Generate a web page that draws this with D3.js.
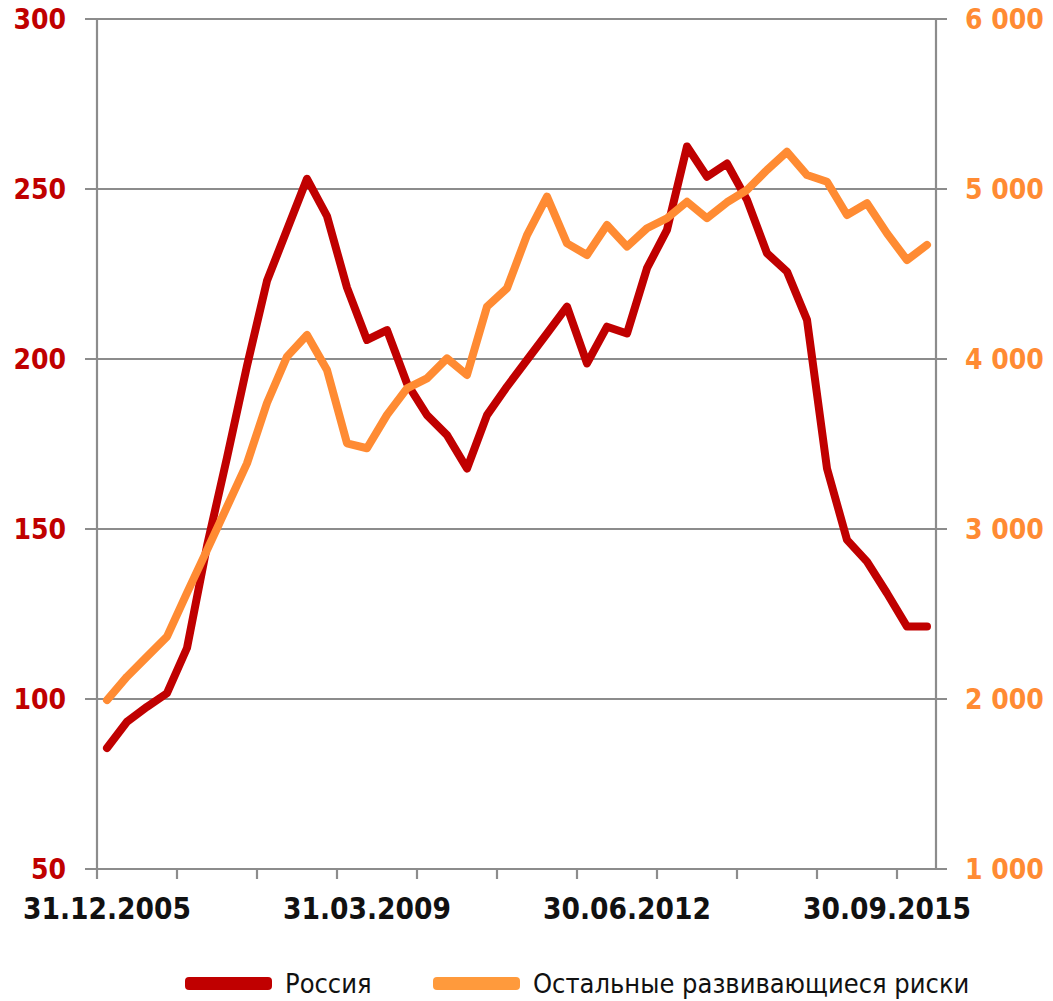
<!DOCTYPE html>
<html>
<head>
<meta charset="utf-8">
<script src="https://cdn.jsdelivr.net/npm/d3@7.9.0/dist/d3.min.js"></script>
<style>
  body { margin: 0; background: #fff; }
  svg { display: block; }
</style>
</head>
<body>
<svg width="1053" height="1001"></svg>
<script>
// quarter-end dates
const dates = [
  '31.12.2005',
  '31.03.2006', '30.06.2006', '30.09.2006', '31.12.2006',
  '31.03.2007', '30.06.2007', '30.09.2007', '31.12.2007',
  '31.03.2008', '30.06.2008', '30.09.2008', '31.12.2008',
  '31.03.2009', '30.06.2009', '30.09.2009', '31.12.2009',
  '31.03.2010', '30.06.2010', '30.09.2010', '31.12.2010',
  '31.03.2011', '30.06.2011', '30.09.2011', '31.12.2011',
  '31.03.2012', '30.06.2012', '30.09.2012', '31.12.2012',
  '31.03.2013', '30.06.2013', '30.09.2013', '31.12.2013',
  '31.03.2014', '30.06.2014', '30.09.2014', '31.12.2014',
  '31.03.2015', '30.06.2015', '30.09.2015', '31.12.2015',
  '31.03.2016'
];

// Россия (left axis)
const russia = [
  85.6, 93.3, 97.7, 101.7, 115, 145, 171, 198, 223, 238,
  253, 242, 221, 205.6, 208.5, 192.8, 183.5, 177.6, 167.8, 183.5,
  191.9, 199.7, 207.5, 215.4, 198.7, 209.5, 207.5, 226.7, 238, 262.5,
  253.6, 257.5, 246.8, 231.1, 225.7, 211.5, 167.8, 146.8, 140.4, 131.1,
  121.3, 121.3
];

// Остальные развивающиеся риски (right axis)
const others = [
  1994, 2131, 2249, 2367, 2624, 2876, 3131, 3386, 3741, 4014,
  4141, 3935, 3504, 3475, 3671, 3827, 3886, 4004, 3906, 4308,
  4416, 4729, 4955, 4680, 4612, 4788, 4661, 4769, 4828, 4925,
  4828, 4922, 4994, 5112, 5219, 5082, 5043, 4847, 4916, 4739,
  4582, 4671
];

const leftTicks = [50, 100, 150, 200, 250, 300];
const rightTicks = [1000, 2000, 3000, 4000, 5000, 6000];
const shownDates = ['31.12.2005', '31.03.2009', '30.06.2012', '30.09.2015'];

const seriesNames = ['Россия', 'Остальные развивающиеся риски'];
const lineColors = ['#c00000', '#ff8b33'];
const legendColors = ['#c00000', '#ff9a3c'];

const margin = { top: 19, right: 116, bottom: 132, left: 97 };
const W = 1053, H = 1001;
const iw = W - margin.left - margin.right;
const ih = H - margin.top - margin.bottom;

const svg = d3.select('svg');
const g = svg.append('g').attr('transform', `translate(${margin.left},${margin.top})`);

const x = d3.scaleBand().domain(dates).range([0, iw]);
const yL = d3.scaleLinear().domain([50, 300]).range([ih, 0]);
const yR = d3.scaleLinear().domain([1000, 6000]).range([ih, 0]);

const grey = '#8c8c8c';
const font = '"DejaVu Sans Condensed", "DejaVu Sans", sans-serif';

// gridlines
g.selectAll('.grid')
  .data(leftTicks)
  .join('line')
  .attr('x1', -12).attr('x2', iw + 10)
  .attr('y1', d => yL(d)).attr('y2', d => yL(d))
  .attr('stroke', grey).attr('stroke-width', 2.2);

// vertical axes
g.append('line').attr('x1', 0).attr('x2', 0).attr('y1', 0).attr('y2', ih)
  .attr('stroke', grey).attr('stroke-width', 2.2);
g.append('line').attr('x1', iw - 1).attr('x2', iw - 1).attr('y1', 0).attr('y2', ih)
  .attr('stroke', grey).attr('stroke-width', 2.2);

// x ticks every 4 quarters
const tickIdx = d3.range(0, dates.length, 4);
g.selectAll('.xtick')
  .data(tickIdx)
  .join('line')
  .attr('x1', i => x(dates[i])).attr('x2', i => x(dates[i]))
  .attr('y1', ih).attr('y2', ih + 10)
  .attr('stroke', grey).attr('stroke-width', 2.2);

// left labels
g.selectAll('.ylab')
  .data(leftTicks)
  .join('text')
  .attr('x', -31).attr('y', d => yL(d))
  .attr('dy', '0.36em')
  .attr('text-anchor', 'end')
  .attr('fill', '#c00000')
  .style('font-family', font).style('font-weight', 'bold').style('font-size', '28px')
  .text(d => d);

// right labels
const fmtR = d => d3.format(',')(d).replace(',', ' ');
g.selectAll('.yrlab')
  .data(rightTicks)
  .join('text')
  .attr('x', iw + 28).attr('y', d => yR(d))
  .attr('dy', '0.36em')
  .attr('text-anchor', 'start')
  .attr('fill', '#ff8b33')
  .style('font-family', font).style('font-weight', 'bold').style('font-size', '28px')
  .text(fmtR);

// x labels
g.selectAll('.xlab')
  .data(shownDates)
  .join('text')
  .attr('x', d => x(d) + x.bandwidth() / 2)
  .attr('y', ih + 50)
  .attr('text-anchor', 'middle')
  .attr('fill', '#111')
  .style('font-family', font).style('font-weight', 'bold').style('font-size', '29.5px')
  .text(d => d);

// lines
const lineL = d3.line().x((d, i) => x(dates[i]) + x.bandwidth() / 2).y(d => yL(d));
const lineR = d3.line().x((d, i) => x(dates[i]) + x.bandwidth() / 2).y(d => yR(d));

g.append('path').datum(russia)
  .attr('d', lineL)
  .attr('fill', 'none').attr('stroke', lineColors[0])
  .attr('stroke-width', 8).attr('stroke-linejoin', 'round').attr('stroke-linecap', 'round');

g.append('path').datum(others)
  .attr('d', lineR)
  .attr('fill', 'none').attr('stroke', lineColors[1])
  .attr('stroke-width', 8).attr('stroke-linejoin', 'round').attr('stroke-linecap', 'round');

// legend
const legendX = [185, 433];
const legend = svg.append('g');
seriesNames.forEach((name, i) => {
  legend.append('rect')
    .attr('x', legendX[i]).attr('y', 977)
    .attr('width', 87).attr('height', 13).attr('rx', 4)
    .attr('fill', legendColors[i]);
  legend.append('text')
    .attr('x', legendX[i] + 100).attr('y', 993)
    .attr('fill', '#111')
    .style('font-family', font).style('font-size', '27px')
    .text(name);
});
</script>
</body>
</html>
